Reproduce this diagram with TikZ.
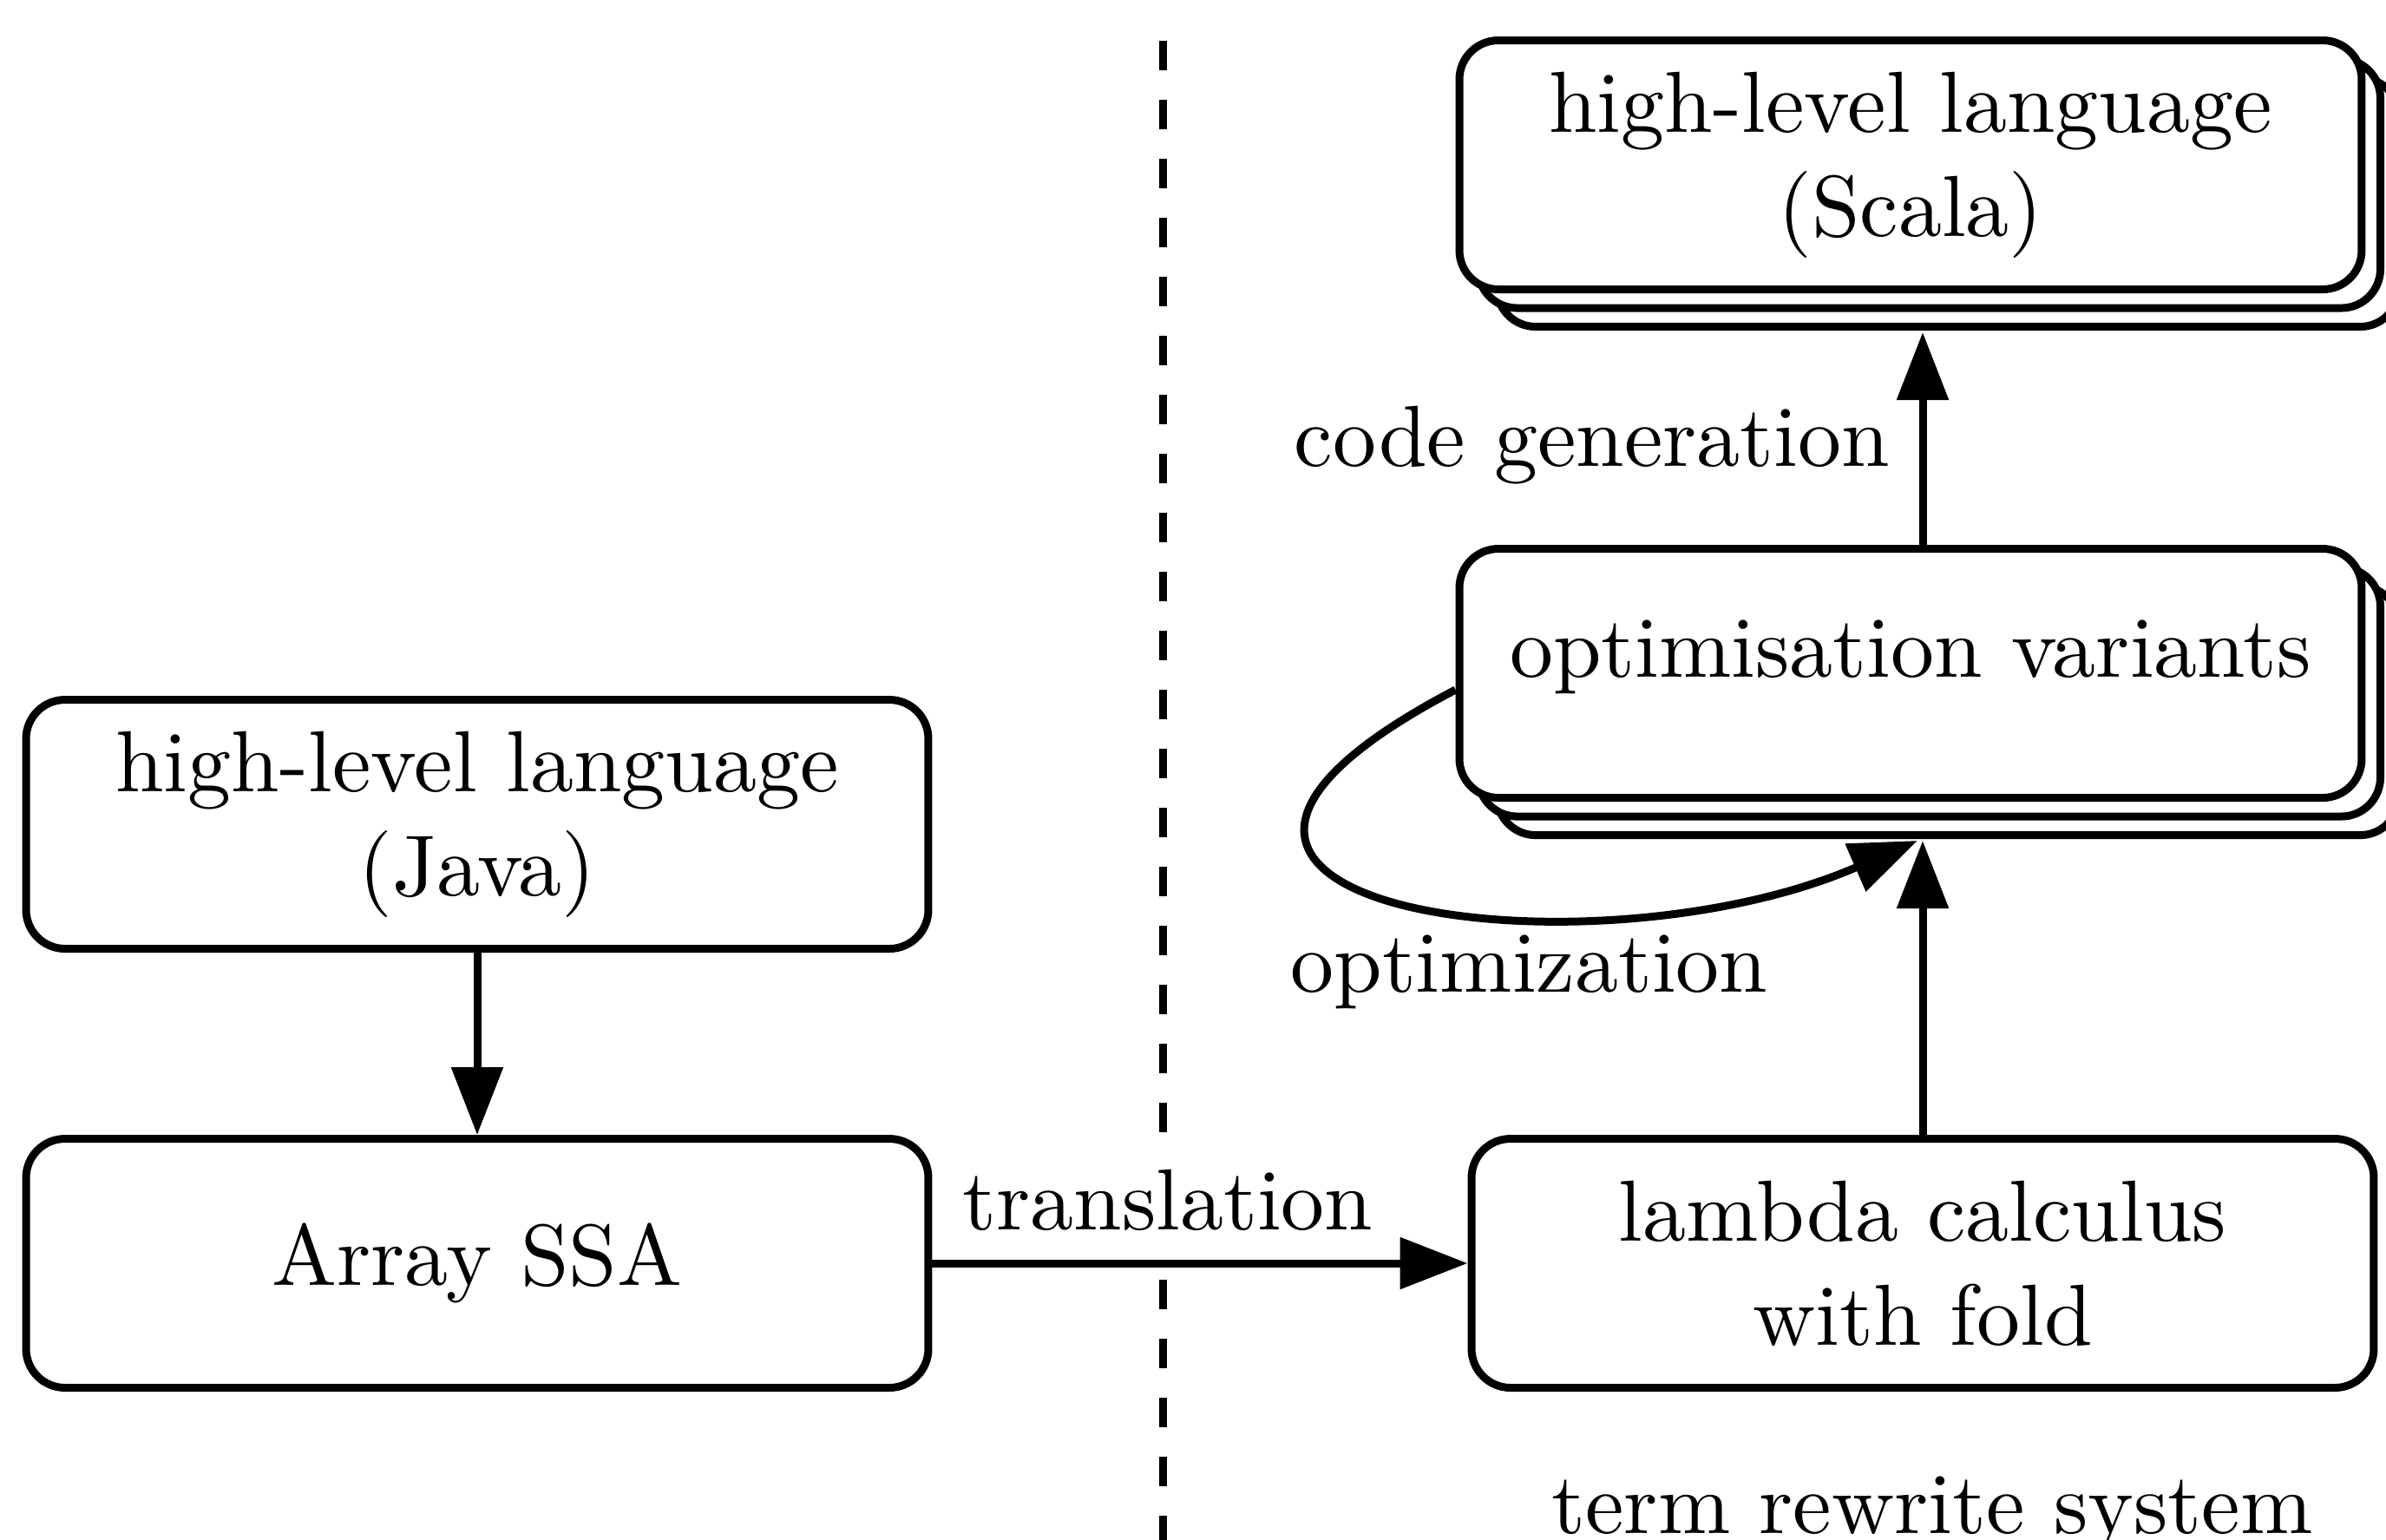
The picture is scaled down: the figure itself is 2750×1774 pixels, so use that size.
\documentclass[tikz,border=0pt]{standalone}
\usetikzlibrary{shadows,arrows.meta,calc}
\begin{document}
\begin{tikzpicture}[x=0.1pt,y=0.1pt,line width=0.9pt,
  box/.style={draw,fill=white,rounded corners=4.5pt,minimum width=104pt,
    minimum height=28.7pt,align=center,inner sep=0pt},
  % two copies of the box behind it, shifted right and down
  stackbox/.style={box,
    general shadow={shadow scale=1,shadow xshift=1ex,shadow yshift=-1ex,draw,fill=white},
    general shadow={shadow scale=1,shadow xshift=.5ex,shadow yshift=-.5ex,draw,fill=white}},
  arr/.style={-{Triangle[length=7.8pt,width=5.8pt]}},
  lbl/.style={inner sep=3.33pt}]
\useasboundingbox (0,0) rectangle (2750,-1774);

% separator between the two halves
\coordinate (septop) at (1340,-47);
\coordinate (sepbot) at (1340,-1800);
\draw[dash pattern=on 3.4pt off 3.4pt] (septop) -- (sepbot);

% left side
\node[box] (java) at (550,-950) {high-level language\\(Java)};
\node[box] (ssa) at (550,-1456) {Array SSA};

% right side
\node[box] (lambda) at (2216,-1456) {lambda calculus\\with fold};
\node[stackbox,text depth=5.7pt] (opt) at (2202,-776) {optimisation variants};
\node[stackbox] (scala) at (2202,-190) {high-level language\\(Scala)};
\node[lbl,anchor=base] (trs) at ([xshift=1.1pt,yshift=-16.35pt]lambda.south) {term rewrite system};

% ends of the arrows at the bottom of the stacks
\coordinate (optfoot) at ($(opt.south)+(0,-4.5pt)$);
\coordinate (scalafoot) at ($(scala.south)+(0,-4.5pt)$);
\coordinate (loopstart) at ($(opt.west)+(0,-1.9pt)$);
\coordinate (loopend) at ($(optfoot)+(0.8pt,0)$);

% connectors
\draw[arr] (java) -- (ssa);
\draw[arr] (ssa) -- node[lbl,above,pos=0.44,fill=white,inner xsep=0.5pt] (trl) {translation} (lambda);
\draw[arr] (lambda.north) -- (lambda.north |- optfoot);
\draw[arr] (opt.north -| lambda.north) -- node[lbl,pos=0.37,anchor=base east] (cgl) {code generation} (lambda.north |- scalafoot);
\draw[arr] (loopstart) .. controls +(-48.1pt,-25.2pt) and +(-38pt,-16.5pt) .. node[lbl,pos=0.65,anchor=base,xshift=-1.4pt,yshift=-9pt] (optl) {optimization} (loopend);
\end{tikzpicture}
\end{document}
